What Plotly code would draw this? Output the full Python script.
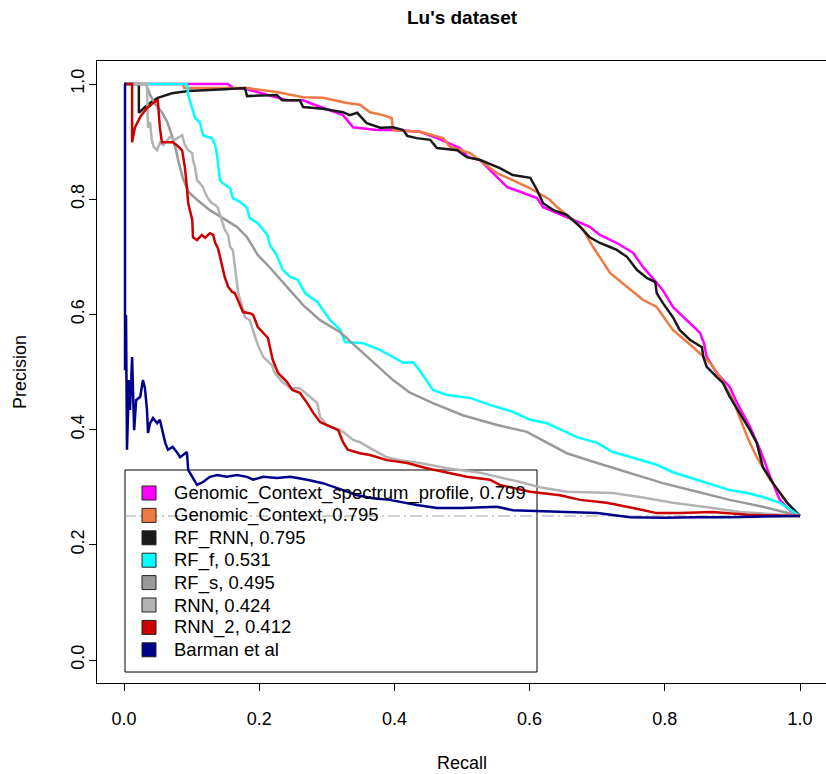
import plotly.graph_objects as go

# ---------------- data ----------------
gcsp_recall = [0, 0.087, 0.154, 0.161, 0.182, 0.241, 0.265, 0.275, 0.324, 0.339, 0.374, 0.398, 0.438, 0.463, 0.497,
               0.509, 0.527, 0.541, 0.567, 0.586, 0.611, 0.620, 0.655, 0.675, 0.689, 0.704, 0.729, 0.753, 0.768,
               0.788, 0.797, 0.812, 0.833, 0.852, 0.858, 0.862, 0.877, 0.896, 0.907, 0.926, 0.941, 0.956, 0.970,
               0.985, 1.0]
gcsp_prec = [1.0, 1.0, 1.0, 0.993, 0.991, 0.972, 0.972, 0.967, 0.946, 0.925, 0.920, 0.920, 0.917, 0.906, 0.889,
             0.873, 0.868, 0.851, 0.821, 0.813, 0.802, 0.786, 0.769, 0.759, 0.752, 0.738, 0.724, 0.707, 0.682,
             0.655, 0.642, 0.613, 0.590, 0.568, 0.550, 0.526, 0.498, 0.474, 0.446, 0.405, 0.365, 0.318, 0.278,
             0.260, 0.25]

gc_recall = [0, 0.087, 0.089, 0.182, 0.226, 0.265, 0.294, 0.330, 0.349, 0.364, 0.383, 0.396, 0.398, 0.438, 0.472,
             0.482, 0.512, 0.531, 0.552, 0.575, 0.601, 0.630, 0.641, 0.664, 0.679, 0.694, 0.719, 0.744, 0.768,
             0.788, 0.812, 0.842, 0.867, 0.882, 0.901, 0.922, 0.936, 0.956, 0.981, 1.0]
gc_prec = [1.0, 1.0, 0.993, 0.993, 0.986, 0.977, 0.976, 0.967, 0.964, 0.951, 0.946, 0.941, 0.920, 0.917, 0.906,
           0.891, 0.880, 0.863, 0.845, 0.833, 0.819, 0.799, 0.786, 0.764, 0.747, 0.717, 0.672, 0.648, 0.625,
           0.613, 0.573, 0.543, 0.516, 0.491, 0.451, 0.387, 0.352, 0.313, 0.273, 0.25]

rfrnn_recall = [0, 0.022, 0.022, 0.031, 0.041, 0.050, 0.071, 0.095, 0.149, 0.179, 0.182, 0.226, 0.234, 0.260,
                0.265, 0.294, 0.324, 0.334, 0.345, 0.359, 0.379, 0.398, 0.413, 0.419, 0.433, 0.453, 0.463, 0.493,
                0.507, 0.527, 0.556, 0.575, 0.601, 0.611, 0.620, 0.635, 0.655, 0.675, 0.689, 0.704, 0.719, 0.729,
                0.744, 0.759, 0.774, 0.786, 0.788, 0.797, 0.812, 0.822, 0.837, 0.855, 0.857, 0.862, 0.877, 0.886,
                0.896, 0.911, 0.926, 0.936, 0.945, 0.960, 0.981, 1.0]
rfrnn_prec = [1.0, 1.0, 0.950, 0.960, 0.969, 0.976, 0.984, 0.988, 0.991, 0.993, 0.979, 0.981, 0.972, 0.972,
              0.960, 0.957, 0.951, 0.946, 0.950, 0.932, 0.924, 0.925, 0.920, 0.910, 0.906, 0.903, 0.889, 0.885,
              0.873, 0.868, 0.854, 0.842, 0.837, 0.816, 0.793, 0.781, 0.773, 0.752, 0.734, 0.724, 0.717, 0.712,
              0.700, 0.677, 0.663, 0.656, 0.637, 0.620, 0.595, 0.573, 0.556, 0.543, 0.526, 0.509, 0.491, 0.481,
              0.457, 0.429, 0.399, 0.377, 0.335, 0.307, 0.273, 0.25]

rff_recall = [0, 0.093, 0.095, 0.101, 0.105, 0.112, 0.117, 0.124, 0.130, 0.135, 0.138, 0.142, 0.146, 0.157, 0.161,
              0.172, 0.182, 0.186, 0.197, 0.206, 0.212, 0.216, 0.226, 0.235, 0.246, 0.257, 0.268, 0.278, 0.286,
              0.294, 0.305, 0.320, 0.327, 0.354, 0.379, 0.398, 0.413, 0.428, 0.442, 0.457, 0.478, 0.512, 0.541,
              0.575, 0.601, 0.626, 0.655, 0.670, 0.700, 0.723, 0.753, 0.788, 0.812, 0.848, 0.871, 0.896, 0.922,
              0.945, 0.970, 1.0]
rff_prec = [1.0, 1.0, 0.981, 0.958, 0.941, 0.934, 0.911, 0.908, 0.906, 0.894, 0.873, 0.833, 0.828, 0.819, 0.802,
            0.795, 0.785, 0.767, 0.759, 0.747, 0.738, 0.720, 0.703, 0.677, 0.665, 0.660, 0.637, 0.628, 0.622,
            0.608, 0.590, 0.573, 0.552, 0.550, 0.538, 0.526, 0.516, 0.517, 0.495, 0.469, 0.460, 0.455, 0.443,
            0.431, 0.417, 0.411, 0.396, 0.387, 0.377, 0.361, 0.351, 0.339, 0.326, 0.313, 0.304, 0.295, 0.290,
            0.283, 0.273, 0.25]

rfs_recall = [0, 0.0325, 0.0385, 0.046, 0.056, 0.064, 0.071, 0.077, 0.081, 0.087, 0.095, 0.108, 0.127, 0.146,
              0.167, 0.182, 0.198, 0.216, 0.235, 0.265, 0.290, 0.320, 0.349, 0.374, 0.398, 0.423, 0.457, 0.501,
              0.552, 0.596, 0.626, 0.655, 0.700, 0.749, 0.797, 0.848, 0.896, 0.945, 1.0]
rfs_prec = [1.0, 1.0, 0.981, 0.965, 0.951, 0.934, 0.910, 0.885, 0.863, 0.837, 0.813, 0.799, 0.781, 0.767, 0.752,
            0.734, 0.703, 0.681, 0.656, 0.616, 0.590, 0.569, 0.538, 0.512, 0.486, 0.464, 0.446, 0.425, 0.408,
            0.396, 0.377, 0.359, 0.342, 0.325, 0.307, 0.292, 0.278, 0.266, 0.25]

rnn_recall = [0, 0.034, 0.0355, 0.0385, 0.041, 0.044, 0.049, 0.053, 0.058, 0.064, 0.068, 0.075, 0.086, 0.090,
              0.095, 0.101, 0.102, 0.105, 0.108, 0.112, 0.117, 0.120, 0.124, 0.130, 0.135, 0.139, 0.142, 0.146,
              0.149, 0.154, 0.157, 0.161, 0.164, 0.167, 0.169, 0.175, 0.179, 0.186, 0.191, 0.197, 0.206, 0.219,
              0.223, 0.234, 0.246, 0.260, 0.272, 0.286, 0.290, 0.300, 0.312, 0.324, 0.339, 0.349, 0.361, 0.374,
              0.389, 0.408, 0.438, 0.478, 0.527, 0.586, 0.615, 0.655, 0.723, 0.763, 0.788, 0.812, 0.871, 0.911, 1.0]
rnn_prec = [1.0, 1.0, 0.924, 0.934, 0.903, 0.891, 0.885, 0.898, 0.894, 0.903, 0.908, 0.903, 0.911, 0.894, 0.885,
            0.880, 0.868, 0.856, 0.833, 0.828, 0.821, 0.811, 0.802, 0.793, 0.790, 0.785, 0.773, 0.759, 0.747,
            0.738, 0.717, 0.712, 0.682, 0.655, 0.637, 0.613, 0.595, 0.590, 0.573, 0.550, 0.526, 0.512, 0.498,
            0.483, 0.472, 0.472, 0.460, 0.446, 0.422, 0.408, 0.403, 0.396, 0.382, 0.378, 0.370, 0.361, 0.352,
            0.347, 0.342, 0.333, 0.325, 0.309, 0.300, 0.292, 0.290, 0.283, 0.278, 0.273, 0.264, 0.257, 0.25]

rnn2_recall = [0, 0.012, 0.012, 0.016, 0.024, 0.034, 0.043, 0.050, 0.053, 0.056, 0.072, 0.078, 0.086, 0.090,
               0.093, 0.095, 0.101, 0.102, 0.108, 0.115, 0.120, 0.127, 0.132, 0.135, 0.139, 0.142, 0.145, 0.149,
               0.154, 0.160, 0.164, 0.169, 0.176, 0.186, 0.191, 0.198, 0.206, 0.213, 0.220, 0.228, 0.241, 0.249,
               0.260, 0.271, 0.280, 0.290, 0.305, 0.317, 0.324, 0.331, 0.349, 0.364, 0.389, 0.419, 0.448, 0.478,
               0.507, 0.541, 0.556, 0.601, 0.645, 0.675, 0.714, 0.753, 0.788, 0.822, 0.871, 0.922, 1.0]
rnn2_prec = [1.0, 1.0, 0.899, 0.924, 0.943, 0.958, 0.967, 0.972, 0.925, 0.899, 0.899, 0.894, 0.885, 0.856, 0.821,
             0.793, 0.764, 0.734, 0.729, 0.738, 0.733, 0.741, 0.738, 0.724, 0.715, 0.700, 0.689, 0.665, 0.648,
             0.639, 0.637, 0.622, 0.604, 0.602, 0.599, 0.578, 0.568, 0.559, 0.521, 0.498, 0.483, 0.469, 0.464,
             0.446, 0.429, 0.413, 0.405, 0.399, 0.378, 0.365, 0.359, 0.356, 0.347, 0.342, 0.333, 0.326, 0.318,
             0.313, 0.304, 0.292, 0.286, 0.278, 0.273, 0.264, 0.255, 0.255, 0.257, 0.252, 0.25]

barman_recall = [0, 0.0015, 0.0015, 0.003, 0.0044, 0.0074, 0.0089, 0.012, 0.015, 0.018, 0.024, 0.028, 0.031,
                 0.034, 0.0355, 0.0385, 0.043, 0.049, 0.053, 0.058, 0.061, 0.065, 0.072, 0.078, 0.083, 0.093, 0.095,
                 0.101, 0.108, 0.117, 0.127, 0.138, 0.152, 0.167, 0.182, 0.191, 0.206, 0.226, 0.246, 0.271, 0.294,
                 0.324, 0.345, 0.368, 0.393, 0.433, 0.463, 0.501, 0.552, 0.575, 0.601, 0.649, 0.700, 0.749, 0.797,
                 0.848, 0.896, 1.0]
barman_prec = [1.0, 1.0, 0.503, 0.599, 0.365, 0.486, 0.434, 0.526, 0.399, 0.451, 0.457, 0.486, 0.472, 0.434,
               0.394, 0.411, 0.420, 0.411, 0.417, 0.394, 0.377, 0.365, 0.370, 0.361, 0.352, 0.361, 0.330, 0.318,
               0.304, 0.309, 0.318, 0.321, 0.318, 0.321, 0.318, 0.313, 0.318, 0.316, 0.318, 0.313, 0.307, 0.295,
               0.286, 0.281, 0.278, 0.269, 0.264, 0.264, 0.266, 0.260, 0.259, 0.257, 0.255, 0.248, 0.247, 0.248,
               0.248, 0.25]

baseline_recall = [0.0, 1.0]
baseline_prec = [0.25, 0.25]

legend_labels = ["Genomic_Context_spectrum_profile, 0.799", "Genomic_Context, 0.795", "RF_RNN, 0.795",
                 "RF_f, 0.531", "RF_s, 0.495", "RNN, 0.424", "RNN_2, 0.412", "Barman et al"]
tick_vals = [0.0, 0.2, 0.4, 0.6, 0.8, 1.0]
tick_text = ["0.0", "0.2", "0.4", "0.6", "0.8", "1.0"]

# ---------------- styles ----------------
colors = ["#FF00FF", "#EE7942", "#1A1A1A", "#00FFFF", "#999999", "#B3B3B3", "#CD0000", "#00008B"]
series = [(gcsp_recall, gcsp_prec), (gc_recall, gc_prec), (rfrnn_recall, rfrnn_prec), (rff_recall, rff_prec),
          (rfs_recall, rfs_prec), (rnn_recall, rnn_prec), (rnn2_recall, rnn2_prec), (barman_recall, barman_prec)]

FONT = "Liberation Sans, Arial, sans-serif"
W, H = 826, 774
L, T, B = 97, 61, 91  # plot area: x 97..826, y 61..683


def px(xp):
    return (xp - L) / (W - L)


def py(yp):
    return (H - B - yp) / (H - B - T)


fig = go.Figure()
fig.add_trace(go.Scatter(x=baseline_recall, y=baseline_prec, mode="lines", showlegend=False,
                         line=dict(color="#A0A0A0", width=1, dash="12px,4px,2px,4px"), hoverinfo="skip"))
for (xs, ys), c, name in zip(series, colors, legend_labels):
    fig.add_trace(go.Scatter(x=xs, y=ys, mode="lines", name=name, showlegend=False,
                             line=dict(color=c, width=2.5)))

# manual legend (R style)
shapes = [dict(type="rect", xref="paper", yref="paper", x0=px(125), x1=px(537), y0=py(672), y1=py(470),
               line=dict(color="black", width=1), fillcolor="rgba(0,0,0,0)", layer="below")]
annotations = []
for i, (lab, c) in enumerate(zip(legend_labels, colors)):
    cy = 493 + i * 22.4
    shapes.append(dict(type="rect", xref="paper", yref="paper", x0=px(142), x1=px(156), y0=py(cy + 7),
                       y1=py(cy - 7), line=dict(color="#222222", width=1), fillcolor=c))
    annotations.append(dict(x=px(172), y=py(cy), xref="paper", yref="paper", text=lab, showarrow=False,
                            xanchor="left", yanchor="middle", font=dict(family=FONT, size=18.5, color="black")))

annotations.append(dict(x=0.5, y=py(763), xref="paper", yref="paper", text="Recall", showarrow=False,
                        xanchor="center", yanchor="middle", font=dict(family=FONT, size=18, color="black")))
annotations.append(dict(x=px(20), y=py(372), xref="paper", yref="paper", text="Precision", showarrow=False,
                        textangle=-90, xanchor="center", yanchor="middle",
                        font=dict(family=FONT, size=18, color="black")))

fig.update_layout(
    width=W, height=H,
    margin=dict(l=L, r=0, t=T, b=B),
    paper_bgcolor="white", plot_bgcolor="white",
    title=dict(text="<b>Lu's dataset</b>", x=px(462), xref="paper", xanchor="center",
               y=1 - 17 / H, yref="container", yanchor="middle",
               font=dict(family=FONT, size=19, color="black")),
    shapes=shapes, annotations=annotations,
    font=dict(family=FONT, size=18, color="black"),
    showlegend=False,
)
fig.update_xaxes(range=[-27 / 676, -27 / 676 + 729 / 676], tickvals=tick_vals, ticktext=tick_text,
                 ticks="outside", ticklen=7, tickcolor="black", tickwidth=1,
                 showline=True, linecolor="black", linewidth=1, mirror=True,
                 showgrid=False, zeroline=False, ticklabelstandoff=12,
                 tickfont=dict(family=FONT, size=18, color="black"))
fig.update_yaxes(range=[-23 / 576, -23 / 576 + 622 / 576], tickvals=tick_vals, ticktext=tick_text,
                 ticks="outside", ticklen=7, tickcolor="black", tickwidth=1, tickangle=-90,
                 showline=True, linecolor="black", linewidth=1,
                 showgrid=False, zeroline=False, ticklabelstandoff=-2,
                 tickfont=dict(family=FONT, size=18, color="black"))

fig.write_html("out.html", config={"displayModeBar": False},
               post_script="document.body.style.margin='0';document.body.style.overflow='hidden';")
